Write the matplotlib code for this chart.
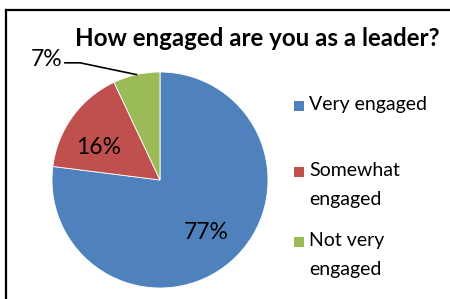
import matplotlib
matplotlib.use("Agg")
import matplotlib.pyplot as plt
from matplotlib.patches import Rectangle
from matplotlib.lines import Line2D
import numpy as np

categorias = ["Very engaged", "Somewhat\nengaged", "Not very\nengaged"]
valores = [77, 16, 7]
colores = ["#4F81BD", "#C0504D", "#9BBB59"]
titulo = "How engaged are you as a leader?"

plt.rcParams["font.family"] = ["Lato", "DejaVu Sans"]

W, H = 450, 299
fig = plt.figure(figsize=(W / 100, H / 100), dpi=100)

# *** marco (solo arriba e izquierda visibles)
fig.add_artist(Line2D([6 / W, 1], [1 - 10 / H, 1 - 10 / H], color="black", lw=1.6))
fig.add_artist(Line2D([6 / W, 6 / W], [0, 1 - 10 / H], color="black", lw=1.6))

# *** pastel
cx, cy, r = 160, 180, 108
ax = fig.add_axes([(cx - r) / W, 1 - (cy + r) / H, 2 * r / W, 2 * r / H])
wedges, textos, autotextos = ax.pie(
    valores, colors=colores, startangle=90, counterclock=False,
    autopct=lambda p: f"{p:.0f}%", pctdistance=0.65,
    wedgeprops=dict(edgecolor="white", linewidth=0.6),
    textprops=dict(fontsize=16.5, color="black"),
)
ax.set_xlim(-1, 1)
ax.set_ylim(-1, 1)
ax.set_aspect("equal")
ax.axis("off")

# etiqueta 16% un poco mas a la izquierda
x16, y16 = autotextos[1].get_position()
autotextos[1].set_position((x16 - 0.04, y16 - 0.08))

# etiqueta del 7% fuera del pastel con linea guia
w = wedges[2]
ang = np.deg2rad((w.theta1 + w.theta2) / 2)
px, py = np.cos(ang), np.sin(ang)
autotextos[2].set_position((-0.9, 1.12))
autotextos[2].set_ha("right")
autotextos[2].set_va("center")
ax.plot([px, -0.74, -0.88], [py, 1.085, 1.085], color="black", lw=1.2, clip_on=False)
autotextos[2].set_clip_on(False)

# *** titulo
fig.text(257 / W, 1 - 38 / H, titulo, ha="center", va="center",
         fontsize=17.4, fontweight="bold")

# *** leyenda manual
leyenda_y = [106, 172, 242]
for etiqueta, color, yy in zip(categorias, colores, leyenda_y):
    fig.add_artist(Rectangle((294 / W, 1 - (yy + 5) / H), 10 / W, 10 / H,
                             facecolor=color, edgecolor="none"))
    fig.text(309 / W, 1 - (yy - 10) / H, etiqueta, ha="left", va="top",
             fontsize=14, linespacing=1.85)

fig.savefig("out.png", dpi=100)
